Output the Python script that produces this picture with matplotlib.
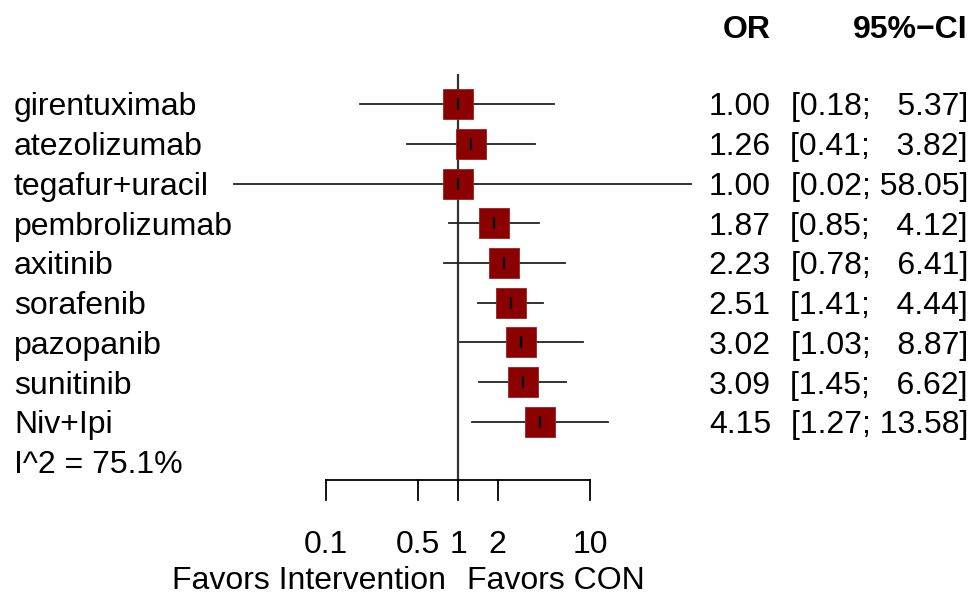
import matplotlib
matplotlib.use("Agg")
import matplotlib.pyplot as plt
import matplotlib.transforms as mtransforms
import numpy as np

plt.rcParams['font.family'] = ['Liberation Sans', 'DejaVu Sans']

# study data
studies = ["girentuximab", "atezolizumab", "tegafur+uracil", "pembrolizumab",
           "axitinib", "sorafenib", "pazopanib", "sunitinib", "Niv+Ipi"]
odds_ratio = [1.00, 1.26, 1.00, 1.87, 2.23, 2.51, 3.02, 3.09, 4.15]
ci_lower = [0.18, 0.41, 0.02, 0.85, 0.78, 1.41, 1.03, 1.45, 1.27]
ci_upper = [5.37, 3.82, 58.05, 4.12, 6.41, 4.44, 8.87, 6.62, 13.58]
heterogeneity = "I^2 = 75.1%"
tick_values = [0.1, 0.5, 1, 2, 10]
tick_labels = ["0.1", "0.5", "1", "2", "10"]
label_left = "Favors Intervention"
label_right = "Favors CON"

W, H = 973, 596
fig = plt.figure(figsize=(W / 100, H / 100), dpi=100)
ax = fig.add_axes([0, 0, 1, 1])
ax.set_xscale("log")

# pixel layout: x=1 at 458px, one decade = 132px; rows start at 104px, 39.75px apart
x0, dec = 458, 132
ax.set_xlim(10 ** (-x0 / dec), 10 ** ((W - x0) / dec))
y0, step = 104, 39.75
ax.set_ylim((H - y0) / step, -y0 / step)
ax.axis("off")

fs = 23
# text is centred on its cap height, like R does: baseline sits half a cap lower
cap = 0.716 * fs * 100 / 72 / 2 / step
rows = np.arange(len(studies))
blend = mtransforms.blended_transform_factory(ax.transAxes, ax.transData)


def label(x, y, s, ha, **kw):
    ax.text(x, y + cap, s, ha=ha, va="baseline", fontsize=fs, **kw)


# null line
ax.plot([1, 1], [-0.73, 9.46], color="#333333", lw=1.6, zorder=1)

# confidence intervals
for i in rows:
    ax.plot([ci_lower[i], ci_upper[i]], [i, i], color="#222222", lw=1.3, zorder=2)

ax.scatter(odds_ratio, rows, marker="s", s=450, facecolor="#8b0000",
           edgecolor="#a02020", linewidths=0.6, zorder=3)
ax.scatter(odds_ratio, rows, marker="|", s=70, color="black", linewidths=1.6, zorder=4)

# x axis
ax.plot([tick_values[0], tick_values[-1]], [9.46, 9.46], color="black", lw=1.3)
for t, lab in zip(tick_values, tick_labels):
    ax.plot([t, t], [9.46, 9.96], color="black", lw=1.3)
    label(t, 11.0, lab, "center")
label(10 ** (-12 / dec), 11.92, label_left, "right")
label(10 ** (9 / dec), 11.92, label_right, "left")

# left and right columns
for i in rows:
    label(14 / W, i, studies[i], "left", transform=blend)
    label(771 / W, i, f"{odds_ratio[i]:.2f}", "right", transform=blend)
    lo = f"{ci_lower[i]:.2f}"
    hi = f"{ci_upper[i]:5.2f}".replace(" ", "  ")
    label(968 / W, i, f"[{lo}; {hi}]", "right", transform=blend)
label(14 / W, 9.0, heterogeneity, "left", transform=blend)

# header
label(771 / W, (27 - y0) / step, "OR", "right", fontweight="bold", transform=blend)
label(968 / W, (27 - y0) / step, "95%\u2212CI", "right", fontweight="bold", transform=blend)

fig.savefig("out.png", dpi=100)
